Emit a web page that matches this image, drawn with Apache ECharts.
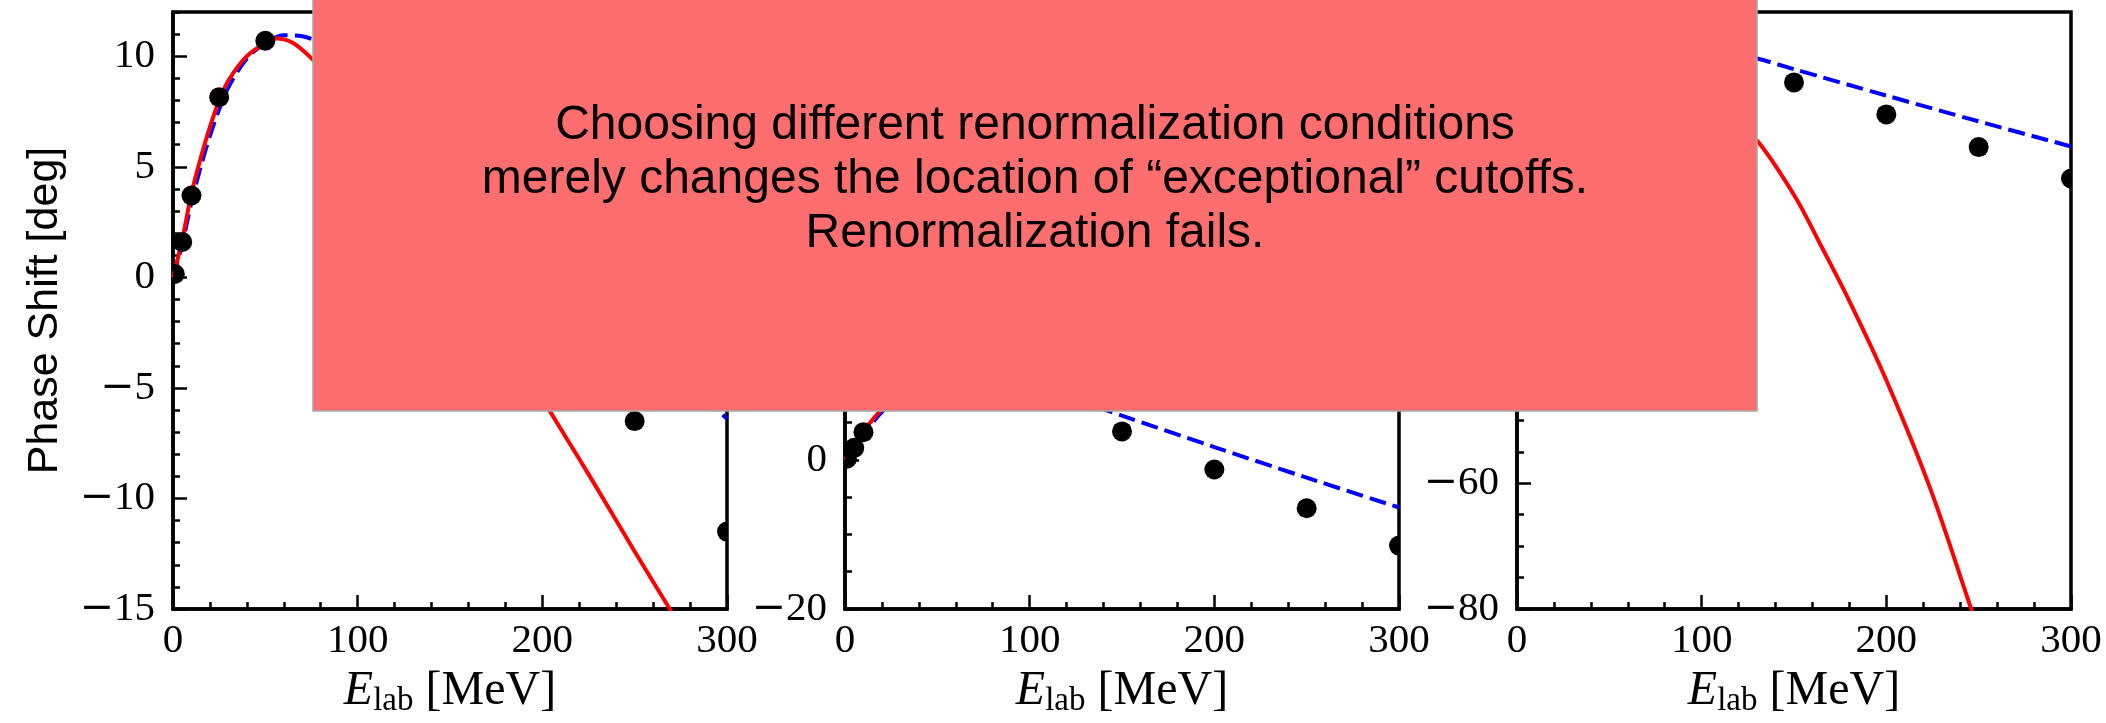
<!DOCTYPE html>
<html>
<head>
<meta charset="utf-8">
<script src="https://cdn.jsdelivr.net/npm/echarts@6/dist/echarts.min.js"></script>
<style>
  html, body { margin: 0; padding: 0; background: #fff; }
  #container { width: 2106px; height: 723px; }
</style>
</head>
<body>
<div id="container"></div>
<script>
const container = document.getElementById('container');
const chartIns = echarts.init(container, null, { renderer: 'canvas' });

// data points (same in all three panels)
const dataEnergy = [1, 5, 10, 25, 50, 100, 150, 200, 250, 300];
const dataPhase = [0.15, 1.6, 3.7, 8.15, 10.7, 8.5, 3.8, -1.3, -6.5, -11.5];

// blue dashed curve (same in all panels)
const blueEnergy = [0, 5, 10, 15, 20, 25, 30, 40, 50, 60, 70, 80, 100, 130, 150, 200, 250, 300];
const bluePhase = [0, 1.5, 3.4, 5.0, 6.4, 7.6, 8.6, 9.9, 10.6, 10.95, 10.9, 10.6, 9.6, 7.6, 5.9, 1.7, -2.4, -6.4];

// red solid curves, one per panel
const redEnergyA = [0, 5, 10, 15, 20, 25, 30, 40, 50, 56, 65, 75, 100, 125, 150, 175, 204, 225, 250, 269, 300];
const redPhaseA = [0, 1.7, 3.8, 5.4, 6.8, 8.0, 8.9, 10.0, 10.6, 10.8, 10.6, 9.9, 7.7, 4.9, 1.7, -2.0, -6.04, -8.9, -12.4, -15, -19.3];

const redEnergyB = [0, 5, 10, 15, 20, 25, 40, 60, 100, 150, 200, 250, 300];
const redPhaseB = [0, 1.7, 3.8, 5.4, 6.8, 8.1, 12, 17, 26, 36, 44, 50, 55];

const redEnergyC = [0, 5, 10, 25, 50, 75, 100, 115, 131, 151, 165, 180, 200, 224, 246, 260];
const redPhaseC = [0, 1.7, 3.8, 8.0, 10.2, 8.3, 3.0, -1.3, -5.8, -14.6, -22.4, -31.0, -43.6, -61.0, -80, -92];

// axis ranges per panel
const xTicks = [0, 100, 200, 300];
const yMin = [-15, -20, -80];
const yMax = [12, 60, 15];
const yStep = [5, 20, 20];
const yMinorStep = [1, 5, 5];

const noteLines = [
  'Choosing different renormalization conditions',
  'merely changes the location of \u201cexceptional\u201d cutoffs.',
  'Renormalization fails.'
];

const zip = (xs, ys) => xs.map((x, i) => [x, ys[i]]);
const redSets = [zip(redEnergyA, redPhaseA), zip(redEnergyB, redPhaseB), zip(redEnergyC, redPhaseC)];

const gridLeft = [173, 845, 1517];
const serif = 'Liberation Serif';
// wide minus like the LaTeX one
const minus = (v) => (v < 0 ? '{m|\u2212}' + Math.abs(v) : String(v));

const grids = [], xAxes = [], yAxes = [], series = [];

for (let i = 0; i < 3; i++) {
  grids.push({
    left: gridLeft[i], top: 12, width: 554, height: 597,
    show: true, borderColor: '#000', borderWidth: 3.5, backgroundColor: 'transparent'
  });

  xAxes.push({
    gridIndex: i, type: 'value', position: 'bottom',
    min: xTicks[0], max: xTicks[xTicks.length - 1], interval: xTicks[1] - xTicks[0],
    axisLine: { onZero: false, lineStyle: { color: '#000', width: 3.5 } },
    axisTick: { inside: true, length: 14, lineStyle: { color: '#000', width: 2.5 } },
    minorTick: { show: true, splitNumber: 5, length: 7, lineStyle: { color: '#000', width: 2.5 } },
    splitLine: { show: false },
    axisLabel: { fontFamily: serif, fontSize: 41, color: '#000', margin: 12 },
    name: '{e|E}{sub|lab}{u| [MeV]}',
    nameLocation: 'middle', nameGap: 55,
    nameTextStyle: {
      rich: {
        e: { fontFamily: serif, fontStyle: 'italic', fontSize: 48, color: '#000', lineHeight: 54, verticalAlign: 'middle' },
        sub: { fontFamily: serif, fontSize: 33, color: '#000', lineHeight: 28, verticalAlign: 'bottom' },
        u: { fontFamily: serif, fontSize: 48, color: '#000', lineHeight: 54, verticalAlign: 'middle' }
      }
    }
  });

  // major y ticks with labels
  yAxes.push({
    gridIndex: i, type: 'value', position: 'left', offset: 0,
    min: yMin[i], max: yMax[i], interval: yStep[i],
    axisLine: { show: true, onZero: false, lineStyle: { color: '#000', width: 3.5 } },
    axisTick: { inside: true, length: 14, lineStyle: { color: '#000', width: 2.5 } },
    splitLine: { show: false },
    axisLabel: {
      fontFamily: serif, fontSize: 41, color: '#000', margin: 18,
      showMaxLabel: false, formatter: minus,
      rich: { m: { fontFamily: 'DejaVu Serif', fontSize: 41, color: '#000' } }
    },
    name: i === 0 ? 'Phase Shift [deg]' : '',
    nameLocation: 'middle', nameGap: 106,
    nameTextStyle: { fontFamily: 'Liberation Sans', fontSize: 43, color: '#000' }
  });
  // minor y ticks
  yAxes.push({
    gridIndex: i, type: 'value', position: 'left', offset: 0,
    min: yMin[i], max: yMax[i], interval: yMinorStep[i],
    axisLine: { show: false, onZero: false },
    axisTick: { inside: true, length: 7, lineStyle: { color: '#000', width: 2.5 } },
    axisLabel: { show: false },
    splitLine: { show: false }
  });

  series.push({
    type: 'line', xAxisIndex: i, yAxisIndex: 2 * i,
    data: zip(blueEnergy, bluePhase), showSymbol: false, smooth: 0.3, clip: true,
    lineStyle: { color: '#0000ff', width: 4, type: [17, 7] }, z: 2
  });
  series.push({
    type: 'line', xAxisIndex: i, yAxisIndex: 2 * i,
    data: redSets[i], showSymbol: false, smooth: 0.3, clip: true,
    lineStyle: { color: '#ff0000', width: 4 }, z: 3
  });
  series.push({
    type: 'custom', xAxisIndex: i, yAxisIndex: 2 * i, clip: true, z: 4,
    data: zip(dataEnergy, dataPhase),
    encode: { x: 0, y: 1 },
    renderItem: (params, api) => {
      const p = api.coord([api.value(0), api.value(1)]);
      return { type: 'circle', shape: { cx: p[0], cy: p[1], r: 10 }, style: { fill: '#000' } };
    }
  });
}

const option = {
  animation: false,
  backgroundColor: '#fff',
  grid: grids,
  xAxis: xAxes,
  yAxis: yAxes,
  series: series,
  graphic: [
    {
      type: 'rect', z: 100,
      shape: { x: 313, y: -2, width: 1444, height: 413 },
      style: { fill: '#ff6e6e', stroke: '#a8a8a8', lineWidth: 1.5 }
    },
    {
      type: 'text', z: 101, x: 1035, y: 180,
      style: {
        text: noteLines.join('\n'),
        font: '48px "Liberation Sans"',
        fill: '#000', align: 'center', verticalAlign: 'middle', lineHeight: 54
      }
    }
  ]
};

chartIns.setOption(option);
</script>
</body>
</html>
